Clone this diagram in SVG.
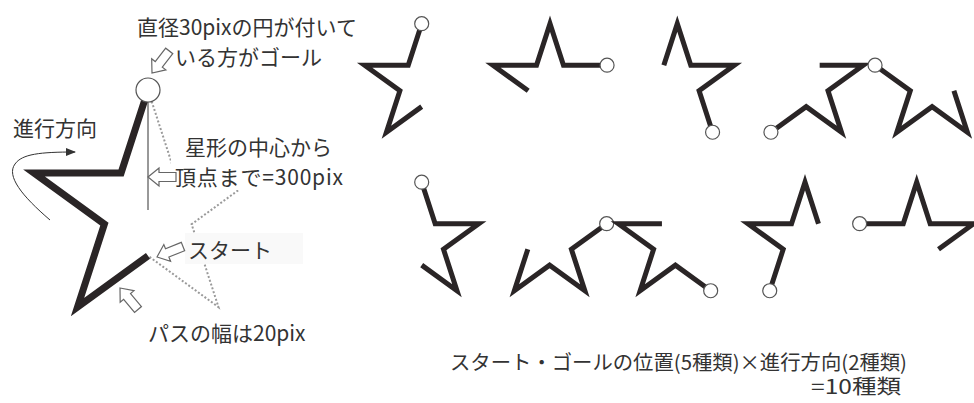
<svg xmlns="http://www.w3.org/2000/svg" xmlns:xlink="http://www.w3.org/1999/xlink" width="974" height="403" viewBox="0 0 974 403">
<style>
.t{font-family:"Noto Sans CJK JP","Noto Sans",sans-serif;font-size:21px;fill:#333}
.s{font-size:20px}
.star{fill:none;stroke:#2a2526;stroke-width:5;stroke-linejoin:miter;stroke-miterlimit:10;stroke-linecap:butt}
.big{stroke-width:7}
.goal{fill:#fff;stroke:#555;stroke-width:1.2}
.dot{fill:none;stroke:#9a9a9a;stroke-width:2;stroke-dasharray:2 2}
.ba{fill:#fff;stroke:#666;stroke-width:1.2;stroke-linejoin:miter}
.thin{fill:none;stroke:#333;stroke-width:1}
</style>
<defs>
<path id="barrow" d="M0,0 L11,-9 L11,-4.5 L28,-4.5 L28,4.5 L11,4.5 L11,9 Z"/>
<marker id="ah" markerWidth="10" markerHeight="8" refX="9" refY="4" orient="auto" markerUnits="userSpaceOnUse">
<path d="M0,0 L10,4 L0,8 Z" fill="#333"/>
</marker>
</defs>
<rect width="974" height="403" fill="#fff"/>

<g id="connectors">
<path class="dot" d="M148,90 L174.9,172.9 L262.1,172.9 L191.6,224.2 L218.5,307.1 L148,255.8"/>
<line class="thin" x1="148" y1="90" x2="148" y2="210"/>
<path class="thin" d="M50,220 C22,196 6,176 15,164 C22,154 40,152 75,152" marker-end="url(#ah)"/>
</g>

<g id="label-bg">
<rect x="171" y="137" width="176" height="53" fill="#fff"/>
<rect x="185" y="233" width="118" height="31" fill="#f9f9f9"/>
</g>

<g id="big-star">
<polyline class="star big" points="148,255.8 77.5,307.1 104.4,224.2 33.9,172.9 121.1,172.9 148,90"/>
<circle class="goal" cx="148" cy="90" r="12"/>
</g>

<g id="pointers">
<use href="#barrow" class="ba" transform="translate(152,73) rotate(-52)"/>
<use href="#barrow" class="ba" transform="translate(148,177)"/>
<use href="#barrow" class="ba" transform="translate(157,257) rotate(-22)"/>
<use href="#barrow" class="ba" transform="translate(120,288) rotate(50)"/>
</g>

<g id="labels">
<text class="t" x="137" y="35">直径30pixの円が付いて</text>
<text class="t" x="175" y="65">いる方がゴール</text>
<text class="t" x="13" y="136">進行方向</text>
<text class="t" x="185" y="155">星形の中心から</text>
<text class="t" x="175" y="185" textLength="168" lengthAdjust="spacing">頂点まで=300pix</text>
<text class="t" x="188" y="258">スタート</text>
<text class="t" x="148" y="341">パスの幅は20pix</text>
<text class="t s" x="450" y="370" textLength="457" lengthAdjust="spacingAndGlyphs">スタート・ゴールの位置(5種類)×進行方向(2種類)</text>
<text class="t s" x="811" y="394" textLength="90" lengthAdjust="spacingAndGlyphs">=10種類</text>
</g>

<g id="star1" transform="translate(421.7,83.7)">
<polyline class="star" points="0,22.92 -35.27,48.54 -21.8,7.08 -57.06,-18.54 -13.47,-18.54 0,-60"/>
<circle class="goal" cx="0" cy="-60" r="7"/>
</g>
<g id="star2" transform="translate(550,83.7)">
<polyline class="star" points="-21.8,7.08 -57.06,-18.54 -13.47,-18.54 0,-60 13.47,-18.54 57.06,-18.54"/>
<circle class="goal" cx="57.06" cy="-18.54" r="7"/>
</g>
<g id="star3" transform="translate(677.3,83.7)">
<polyline class="star" points="-13.47,-18.54 0,-60 13.47,-18.54 57.06,-18.54 21.8,7.08 35.27,48.54"/>
<circle class="goal" cx="35.27" cy="48.54" r="7"/>
</g>
<g id="star4" transform="translate(806.2,83.7)">
<polyline class="star" points="13.47,-18.54 57.06,-18.54 21.8,7.08 35.27,48.54 0,22.92 -35.27,48.54"/>
<circle class="goal" cx="-35.27" cy="48.54" r="7"/>
</g>
<g id="star5" transform="translate(932.1,83.7)">
<polyline class="star" points="21.8,7.08 35.27,48.54 0,22.92 -35.27,48.54 -21.8,7.08 -57.06,-18.54"/>
<circle class="goal" cx="-57.06" cy="-18.54" r="7"/>
</g>

<g id="star6" transform="translate(421.7,242.2)">
<polyline class="star" points="0,22.92 35.27,48.54 21.8,7.08 57.06,-18.54 13.47,-18.54 0,-60"/>
<circle class="goal" cx="0" cy="-60" r="7"/>
</g>
<g id="star7" transform="translate(549.6,242.2)">
<polyline class="star" points="-21.8,7.08 -35.27,48.54 0,22.92 35.27,48.54 21.8,7.08 57.06,-18.54"/>
<circle class="goal" cx="57.06" cy="-18.54" r="7"/>
</g>
<g id="star8" transform="translate(675.4,242.2)">
<polyline class="star" points="-13.47,-18.54 -57.06,-18.54 -21.8,7.08 -35.27,48.54 0,22.92 35.27,48.54"/>
<circle class="goal" cx="35.27" cy="48.54" r="7"/>
</g>
<g id="star9" transform="translate(805,242.2)">
<polyline class="star" points="13.47,-18.54 0,-60 -13.47,-18.54 -57.06,-18.54 -21.8,7.08 -35.27,48.54"/>
<circle class="goal" cx="-35.27" cy="48.54" r="7"/>
</g>
<g id="star10" transform="translate(916.7,242.2)">
<polyline class="star" points="21.8,7.08 57.06,-18.54 13.47,-18.54 0,-60 -13.47,-18.54 -57.06,-18.54"/>
<circle class="goal" cx="-57.06" cy="-18.54" r="7"/>
</g>
</svg>
